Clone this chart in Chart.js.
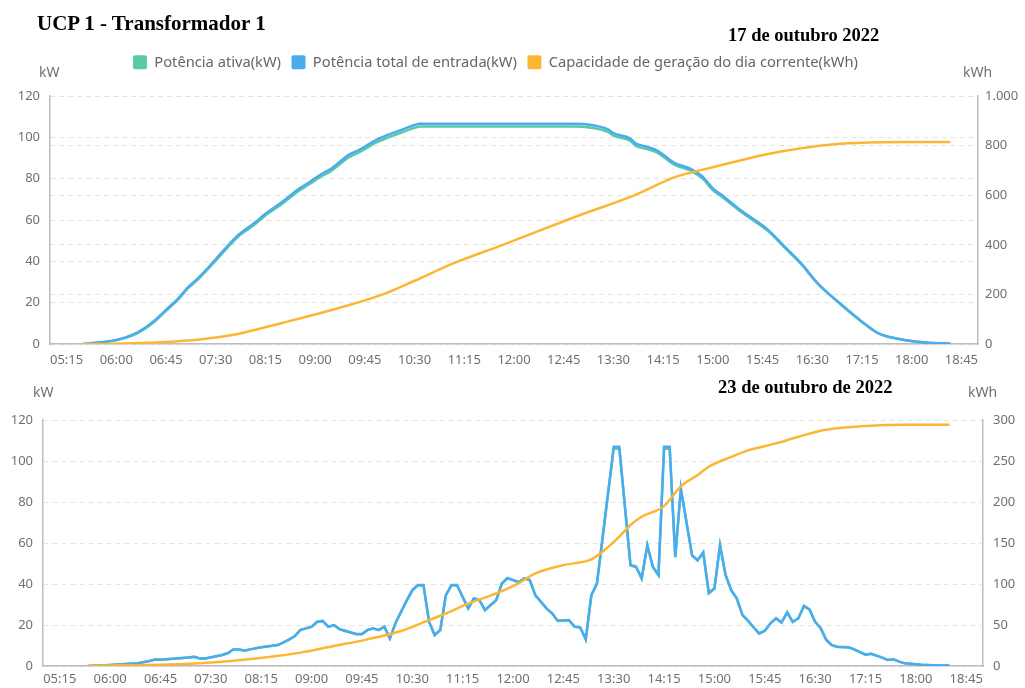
<!DOCTYPE html>
<html lang="pt-BR">
<head>
<meta charset="utf-8">
<title>UCP 1 - Transformador 1</title>
<script src="https://cdn.jsdelivr.net/npm/chart.js@4.4.1/dist/chart.umd.min.js"></script>
<style>
  html, body { margin: 0; padding: 0; background: #fff; }
  body { width: 1025px; height: 688px; position: relative; overflow: hidden; font-family: "Noto Sans", sans-serif; }
  .box { position: absolute; left: 0; width: 1025px; }
  #top { top: 0; height: 372px; }
  #bottom { top: 372px; height: 316px; }
  .heading { position: absolute; font-family: "Liberation Serif", "Times New Roman", serif; font-weight: bold; color: #000; line-height: 1; white-space: nowrap; }
  .unit { position: absolute; font-size: 14px; line-height: 1; color: #6e7079; }
</style>
</head>
<body>
<div class="box" id="top"><canvas id="chartTop" width="1025" height="372"></canvas></div>
<div class="box" id="bottom"><canvas id="chartBottom" width="1025" height="316"></canvas></div>

<div class="heading" style="left:37px; top:13px; font-size:21px;">UCP 1 - Transformador 1</div>
<div class="heading" style="left:728px; top:26px; font-size:18.5px;">17 de outubro 2022</div>
<div class="heading" style="left:718px; top:378px; font-size:18.5px;">23 de outubro de 2022</div>
<div class="unit" style="left:39px; top:65px;">kW</div>
<div class="unit" style="left:963px; top:65px;">kWh</div>
<div class="unit" style="left:33px; top:385px;">kW</div>
<div class="unit" style="left:968px; top:385px;">kWh</div>

<script>
// Rótulos do eixo de tempo
const timeTicks = ['05:15', '06:00', '06:45', '07:30', '08:15', '09:00', '09:45', '10:30', '11:15',
  '12:00', '12:45', '13:30', '14:15', '15:00', '15:45', '16:30', '17:15', '18:00', '18:45'];
const leftTicks = [0, 20, 40, 60, 80, 100, 120];
const rightTicksTop = [0, 200, 400, 600, 800, 1000];
const rightTicksBottom = [0, 50, 100, 150, 200, 250, 300];

const seriesNames = ['Potência ativa(kW)', 'Potência total de entrada(kW)', 'Capacidade de geração do dia corrente(kWh)'];

// 17 de outubro 2022 - potência (kW)
const day1PowerTimes = ['05:30', '05:45', '06:00', '06:15', '06:25', '06:35', '06:45', '06:55', '07:05', '07:15',
  '07:30', '07:40', '07:50', '08:05', '08:15', '08:30', '08:45', '08:55', '09:05', '09:15',
  '09:30', '09:40', '09:55', '10:05', '10:10', '10:20', '10:30', '10:35', '12:55', '13:10',
  '13:25', '13:30', '13:45', '13:50', '14:00', '14:10', '14:25', '14:40', '14:50', '15:00',
  '15:10', '15:25', '15:50', '16:05', '16:20', '16:35', '16:55', '17:15', '17:30', '17:50',
  '18:15', '18:35'];
const day1Active = [0, 0.7, 1.8, 4.2, 7.1, 11, 16, 21, 27, 31.8,
  40.3, 46.3, 51.8, 57.7, 62.2, 67.8, 74, 77.4, 80.9, 83.9,
  90.2, 92.8, 97.4, 99.7, 100.7, 102.7, 104.6, 105.2, 105.2, 104.6,
  102.6, 100.8, 98.4, 96, 94.4, 92.5, 86.8, 83.8, 80.4, 74.5,
  70.5, 64.1, 54.6, 46.6, 38.6, 29.1, 19.5, 10.7, 5.1, 2.2,
  0.6, 0.3];
const day1Input = [0, 0.8, 2, 4.5, 7.5, 11.5, 16.5, 21.5, 27.5, 32.4,
  41, 47, 52.5, 58.5, 63, 68.7, 75, 78.4, 82, 85,
  91.4, 94, 98.7, 101, 102, 104, 106, 106.6, 106.6, 106,
  103.9, 102, 99.5, 97.1, 95.5, 93.5, 87.7, 84.7, 81.3, 75.3,
  71.3, 64.8, 55.2, 47.1, 39, 29.4, 19.7, 10.8, 5.2, 2.3,
  0.6, 0.3];

// 17 de outubro 2022 - energia acumulada (kWh)
const day1EnergyTimes = ['05:30', '06:00', '06:45', '07:15', '07:45', '08:30', '09:15', '10:00', '10:30', '11:05',
  '11:50', '12:15', '13:00', '13:50', '14:25', '14:50', '15:20', '15:50', '16:20', '16:50',
  '17:20', '17:50', '18:35'];
const day1Energy = [0, 1.5, 8, 18, 36, 85, 137, 198, 255, 325,
  400, 443, 520, 601, 672, 702, 735, 766, 789, 805,
  812, 814.5, 814.5];

// 23 de outubro de 2022 - potência (kW)
const day2PowerTimes = ['05:40', '06:00', '06:25', '06:35', '06:40', '06:45', '07:10', '07:15', '07:20', '07:25',
  '07:40', '07:45', '07:50', '07:55', '08:00', '08:05', '08:15', '08:25', '08:30', '08:40',
  '08:45', '08:50', '09:00', '09:05', '09:10', '09:15', '09:20', '09:25', '09:30', '09:40',
  '09:45', '09:50', '09:55', '10:00', '10:05', '10:10', '10:15', '10:25', '10:30', '10:35',
  '10:40', '10:45', '10:50', '10:55', '11:00', '11:05', '11:10', '11:15', '11:20', '11:25',
  '11:30', '11:35', '11:45', '11:50', '11:55', '12:05', '12:10', '12:15', '12:20', '12:30',
  '12:35', '12:40', '12:50', '12:55', '13:00', '13:05', '13:10', '13:15', '13:30', '13:35',
  '13:45', '13:50', '13:55', '14:00', '14:05', '14:10', '14:15', '14:20', '14:25', '14:30',
  '14:40', '14:45', '14:50', '14:55', '15:00', '15:05', '15:10', '15:15', '15:20', '15:25',
  '15:30', '15:35', '15:40', '15:45', '15:50', '15:55', '16:00', '16:05', '16:10', '16:15',
  '16:20', '16:25', '16:30', '16:35', '16:40', '16:45', '16:50', '17:00', '17:05', '17:15',
  '17:20', '17:30', '17:35', '17:40', '17:45', '17:50', '18:05', '18:20', '18:30'];
const day2Input = [0, 0.5, 1.3, 2.4, 3.2, 3, 4.1, 4.5, 3.7, 3.7,
  5.4, 6.2, 8.1, 8.1, 7.5, 8.1, 9.1, 9.9, 10.2, 13,
  14.6, 17.6, 19.2, 21.6, 22, 19.2, 20, 18, 17.2, 15.6,
  15.6, 17.6, 18.4, 17.6, 19.2, 13.5, 21, 32, 37, 39.5,
  39.5, 21.6, 15.1, 17.6, 34.6, 39.5, 39.5, 33.8, 28.1, 33,
  32.2, 27.3, 32.2, 40.3, 43, 41, 42.8, 42, 34.6, 28.1,
  25.7, 22.1, 22.4, 19.2, 18.9, 13, 34.6, 40.3, 107, 107,
  49.3, 48.5, 42.8, 59, 48.5, 44.4, 107, 107, 53.3, 86.7,
  54.1, 51.7, 55.5, 35.6, 37.9, 59, 44.4, 37.1, 33, 24.9,
  22.1, 18.9, 15.9, 17.2, 20.8, 23.3, 21.3, 26.2, 21.6, 23.3,
  29.4, 27.6, 21.6, 18.4, 12.7, 10.2, 9.4, 9.1, 8.1, 5.5,
  6, 4.1, 2.9, 3.3, 2.1, 1.3, 0.6, 0.3, 0.2];
const day2Active = [0, 0.5, 1.3, 2.4, 3.2, 3, 4.1, 4.5, 3.7, 3.7,
  5.4, 6.2, 8.1, 8.1, 7.5, 8.1, 9.1, 9.9, 10.2, 12.9,
  14.5, 17.5, 19.1, 21.5, 21.9, 19.1, 19.9, 17.9, 17.1, 15.5,
  15.5, 17.5, 18.3, 17.5, 19.1, 13.4, 20.9, 31.8, 36.8, 39.3,
  39.3, 21.5, 15, 17.5, 34.4, 39.3, 39.3, 33.6, 28, 32.8,
  32, 27.2, 32, 40.1, 42.8, 40.8, 42.6, 41.8, 34.4, 28,
  25.6, 22, 22.3, 19.1, 18.8, 12.9, 34.4, 40.1, 106, 106,
  49, 48.2, 42.6, 58.7, 48.2, 44.2, 106, 106, 53, 86.2,
  53.8, 51.4, 55.2, 35.4, 37.7, 58.7, 44.2, 36.9, 32.8, 24.8,
  22, 18.8, 15.8, 17.1, 20.7, 23.2, 21.2, 26.1, 21.5, 23.2,
  29.2, 27.4, 21.5, 18.3, 12.6, 10.1, 9.3, 9, 8, 5.5,
  6, 4.1, 2.9, 3.3, 2.1, 1.3, 0.6, 0.3, 0.2];

// 23 de outubro de 2022 - energia acumulada (kWh)
const day2EnergyTimes = ['05:40', '07:20', '08:20', '08:50', '09:20', '09:50', '10:20', '10:45', '11:00', '11:20',
  '11:45', '12:05', '12:20', '12:45', '13:10', '13:20', '13:35', '13:45', '13:55', '14:15',
  '14:30', '14:45', '14:55', '15:15', '15:30', '15:55', '16:15', '16:35', '16:50', '17:20',
  '17:50', '18:30'];
const day2Energy = [0, 3.3, 10.6, 16.3, 24.4, 32.5, 42.7, 56, 64, 76,
  88.6, 100.8, 113, 123, 130, 139.4, 157.7, 172, 182, 195,
  219, 233, 243, 255, 263, 271.5, 279.6, 287, 290, 293,
  294.3, 294.3];

const GREEN = '#5bc9a6';
const BLUE = '#4aacef';
const ORANGE = '#fcb634';
const TICK = '#6e7079';
const AXIS = '#bdbdbd';
const GRID = '#e3e3e3';

const toMin = (hhmm) => {
  const [h, m] = hhmm.split(':').map(Number);
  return h * 60 + m;
};
const fmtTime = (v) => String(Math.floor(v / 60)).padStart(2, '0') + ':' + String(v % 60).padStart(2, '0');
const fmtThousands = (v) => (v >= 1000 ? Math.floor(v / 1000) + '.' + String(v % 1000).padStart(3, '0') : String(v));
const points = (times, values) => times.map((t, i) => ({ x: toMin(t), y: values[i] }));

Chart.defaults.font.family = '"Noto Sans", sans-serif';
Chart.defaults.font.size = 13;
Chart.defaults.color = TICK;

// legenda: espaço extra abaixo dela e deslocamento horizontal da linha de itens
const LEGEND_EXTRA = 16.3;
const LEGEND_SHIFT = -17;
const legendTweak = {
  id: 'legendTweak',
  beforeInit(chart) {
    if (!chart.legend) return;
    const fit = chart.legend.fit;
    chart.legend.fit = function () {
      fit.call(this);
      this.height += LEGEND_EXTRA;
    };
  },
  afterLayout(chart) {
    if (!chart.legend) return;
    chart.legend.left += LEGEND_SHIFT;
    chart.legend.right += LEGEND_SHIFT;
  }
};

function lineDataset(label, data, color, axis, order, smooth) {
  return {
    label,
    data,
    yAxisID: axis,
    order,
    borderColor: color,
    backgroundColor: color,
    borderWidth: 2.5,
    pointRadius: 0,
    pointHoverRadius: 0,
    tension: smooth ? 0.4 : 0,
    cubicInterpolationMode: smooth ? 'monotone' : 'default',
    fill: false
  };
}

function scales(o) {
  return {
    x: {
      type: 'linear',
      min: toMin('05:00'),
      max: toMin('19:00'),
      afterBuildTicks: (s) => { s.ticks = timeTicks.map((t) => ({ value: toMin(t) })); },
      afterFit: (s) => { s.height = o.xHeight; },
      grid: { drawOnChartArea: false, drawTicks: false },
      border: { display: true, color: AXIS, width: 1.5 },
      ticks: { padding: o.xPad, color: TICK, maxRotation: 0, autoSkip: false, callback: (v) => fmtTime(v) }
    },
    y: {
      position: 'left',
      min: leftTicks[0],
      max: leftTicks[leftTicks.length - 1],
      afterBuildTicks: (s) => { s.ticks = leftTicks.map((v) => ({ value: v })); },
      afterFit: (s) => { s.width = o.leftWidth; },
      grid: { color: GRID, lineWidth: 1, drawTicks: false },
      border: { display: true, color: AXIS, width: 1.5, dash: [5, 4] },
      ticks: { padding: 10, color: TICK }
    },
    y1: {
      position: 'right',
      min: o.rightTicks[0],
      max: o.rightTicks[o.rightTicks.length - 1],
      afterBuildTicks: (s) => { s.ticks = o.rightTicks.map((v) => ({ value: v })); },
      afterFit: (s) => { s.width = o.rightWidth; },
      grid: { color: GRID, lineWidth: 1, drawTicks: false, drawOnChartArea: o.rightGrid },
      border: { display: true, color: AXIS, width: 1.5, dash: [5, 4] },
      ticks: { padding: o.rightPad, color: TICK, callback: (v) => fmtThousands(v) }
    }
  };
}

new Chart(document.getElementById('chartTop'), {
  type: 'line',
  data: {
    datasets: [
      lineDataset(seriesNames[0], points(day1PowerTimes, day1Active), GREEN, 'y', 3, true),
      lineDataset(seriesNames[1], points(day1PowerTimes, day1Input), BLUE, 'y', 2, true),
      lineDataset(seriesNames[2], points(day1EnergyTimes, day1Energy), ORANGE, 'y1', 1, true)
    ]
  },
  options: {
    responsive: false,
    animation: false,
    devicePixelRatio: 1,
    layout: { padding: { top: 44.5, left: 0, right: 0, bottom: 0 } },
    scales: scales({ xHeight: 28, xPad: 8, leftWidth: 50, rightWidth: 47, rightPad: 7, rightTicks: rightTicksTop, rightGrid: true }),
    plugins: {
      tooltip: { enabled: false },
      legend: {
        position: 'top',
        labels: {
          boxWidth: 14,
          boxHeight: 14,
          padding: 10.5,
          color: '#666',
          font: { size: 14.7 },
          useBorderRadius: true,
          borderRadius: 2,
          sort: (a, b) => a.datasetIndex - b.datasetIndex,
          generateLabels: (chart) => Chart.defaults.plugins.legend.labels.generateLabels(chart)
            .map((item) => ({ ...item, lineWidth: 0 }))
        }
      }
    }
  },
  plugins: [legendTweak]
});

new Chart(document.getElementById('chartBottom'), {
  type: 'line',
  data: {
    datasets: [
      lineDataset(seriesNames[0], points(day2PowerTimes, day2Active), GREEN, 'y', 3, false),
      lineDataset(seriesNames[1], points(day2PowerTimes, day2Input), BLUE, 'y', 2, false),
      lineDataset(seriesNames[2], points(day2EnergyTimes, day2Energy), ORANGE, 'y1', 1, true)
    ]
  },
  options: {
    responsive: false,
    animation: false,
    devicePixelRatio: 1,
    layout: { padding: { top: 48, left: 0, right: 0, bottom: 0 } },
    scales: scales({ xHeight: 22, xPad: 5, leftWidth: 43, rightWidth: 42, rightPad: 10, rightTicks: rightTicksBottom, rightGrid: false }),
    plugins: {
      tooltip: { enabled: false },
      legend: { display: false }
    }
  }
});
</script>
</body>
</html>
